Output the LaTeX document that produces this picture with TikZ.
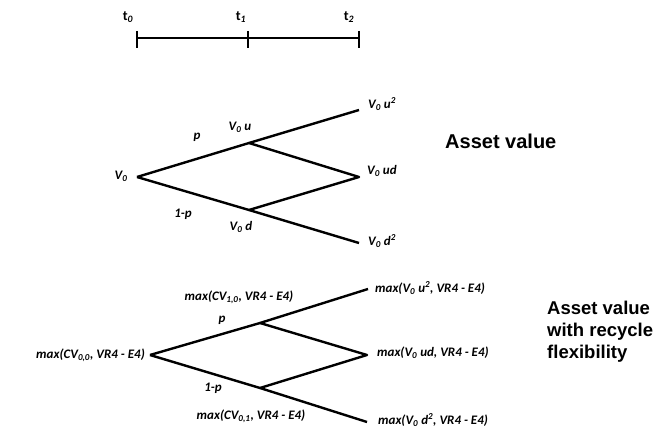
\documentclass[tikz,border=0pt]{standalone}
\usepackage{fontspec}
\setmainfont{Carlito}
\newfontfamily\arialfont{Liberation Sans}
\usetikzlibrary{positioning}

\begin{document}
\begin{tikzpicture}[x=1pt, y=-1pt, every node/.style={inner sep=0pt}, lbl/.style={font=\bfseries\itshape\fontsize{13}{15}\selectfont}, tlbl/.style={font=\bfseries\fontsize{14}{16}\selectfont}, title/.style={font=\arialfont\bfseries\fontsize{20}{22}\selectfont, align=left}, branch/.style={line width=2.4pt, line join=round}]
	\useasboundingbox (0,0) rectangle (659,430);
	\coordinate (t0) at (137,38);
	\coordinate (t1) at (248,38);
	\coordinate (t2) at (359,38);
	\draw[line width=1.1pt] (t0) -- (t2);
	\foreach \t in {t0,t1,t2}
		\draw[line width=1.1pt] ([yshift=7]\t) -- ([yshift=-10]\t);
	\node[tlbl] (lt0) at (128,17) {t\textsubscript{\itshape 0}};
	\node[tlbl] (lt1) at (241,17) {t\textsubscript{\itshape 1}};
	\node[tlbl] (lt2) at (349,17) {t\textsubscript{\itshape 2}};
	\coordinate (a) at (137,177);
	\coordinate (au) at (249,143);
	\coordinate (ad) at (249,210);
	\coordinate (auu) at (359,110);
	\coordinate (aud) at (359,177);
	\coordinate (add) at (359,243);
	\draw[branch] (a) -- (au) -- (auu);
	\draw[branch] (a) -- (ad) -- (add);
	\draw[branch] (au) -- (aud) -- (ad);
	\node[lbl] (va) at (121,176) {V\textsubscript{0}};
	\node[lbl] (vau) at (240,127) {V\textsubscript{0} u};
	\node[lbl] (vad) at (241,227) {V\textsubscript{0} d};
	\node[lbl, anchor=west] (vauu) at (368,104) {V\textsubscript{0} u\textsuperscript{2}};
	\node[lbl, anchor=west] (vaud) at (367,171) {V\textsubscript{0} ud};
	\node[lbl, anchor=west] (vadd) at (368,241) {V\textsubscript{0} d\textsuperscript{2}};
	\node[lbl] (pa) at (197,137) {p};
	\node[lbl] (qa) at (183,214) {1-p};
	\node[title, anchor=west] (ta) at (445,141) {Asset value};
	\coordinate (b) at (150,355);
	\coordinate (bu) at (260,323);
	\coordinate (bd) at (260,388);
	\coordinate (buu) at (368,289);
	\coordinate (bud) at (367,355);
	\coordinate (bdd) at (367,422);
	\draw[branch] (b) -- (bu) -- (buu);
	\draw[branch] (b) -- (bd) -- (bdd);
	\draw[branch] (bu) -- (bud) -- (bd);
	\node[lbl, anchor=east] (vb) at (145,355) {max(CV\textsubscript{0,0}, VR4 - E4)};
	\node[lbl] (vbu) at (239,297) {max(CV\textsubscript{1,0}, VR4 - E4)};
	\node[lbl] (vbd) at (251,416) {max(CV\textsubscript{0,1}, VR4 - E4)};
	\node[lbl, anchor=west] (vbuu) at (375,288) {max(V\textsubscript{0} u\textsuperscript{2}, VR4 - E4)};
	\node[lbl, anchor=west] (vbud) at (377,353) {max(V\textsubscript{0} ud, VR4 - E4)};
	\node[lbl, anchor=west] (vbdd) at (378,420) {max(V\textsubscript{0} d\textsuperscript{2}, VR4 - E4)};
	\node[lbl] (pb) at (222,320) {p};
	\node[lbl] (qb) at (213,388) {1-p};
	\node[title, anchor=north west, font=\arialfont\bfseries\fontsize{18.5}{22}\selectfont] (tb) at (547,301) {Asset value\\with recycle\\flexibility};
\end{tikzpicture}
\end{document}
